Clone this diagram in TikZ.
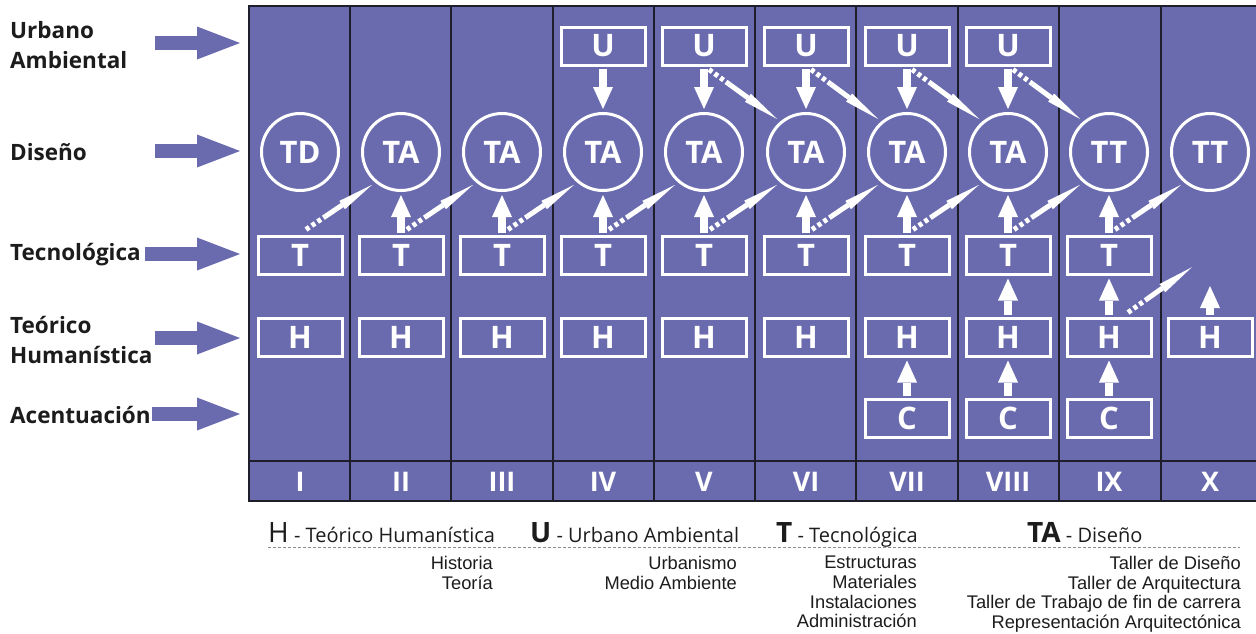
\documentclass[tikz,border=0pt]{standalone}
\usepackage{fontspec}
\setmainfont{Open Sans}
\newfontfamily\itemfont{Liberation Sans}
\usetikzlibrary{arrows.meta,calc}
\definecolor{wpanel}{HTML}{6A6BAE}
\definecolor{wline}{HTML}{1E1E2A}
\definecolor{wtext}{HTML}{1C1C1C}
\definecolor{wgray}{HTML}{8A8A8A}

% dashed start, solid end with a long tapered tip
\newcommand{\zigarr}[2]{%
  \draw[zdash] (#1) -- ($(#1)!0.28!(#2)$);
  \draw[ztip] ($(#1)!0.28!(#2)$) -- (#2);}

\begin{document}
\begin{tikzpicture}[
  x=1pt,y=-1pt,
  box/.style={draw=white,line width=3pt,minimum width=84pt,minimum height=38pt,inner sep=0pt,text=white,font=\fontsize{31}{31}\selectfont\bfseries},
  disc/.style={circle,draw=white,line width=3pt,minimum size=77pt,inner sep=0pt,text=white,font=\fontsize{31}{31}\selectfont\bfseries},
  blk/.style={white,line width=8pt,shorten <=2pt,shorten >=3pt,-{Triangle[length=22pt,width=20pt,line width=0pt]}},
  zdash/.style={white,line width=5pt,dash pattern=on 4pt off 3pt},
  ztip/.style={white,line width=5pt,shorten >=4pt,-{Triangle[length=36pt,width=10pt,line width=0pt]}},
  big/.style={wpanel,line width=14pt,-{Triangle[length=43pt,width=33pt,line width=0pt]}},
  lab/.style={anchor=west,align=left,inner sep=0pt,text=wtext,font=\fontsize{22.5}{30}\selectfont\bfseries},
  num/.style={text=white,font=\fontsize{27}{27}\selectfont\bfseries},
  sep/.style={wline,line width=2.5pt},
  hdr/.style={anchor=base west,inner sep=0pt,text=wtext,font=\fontsize{20}{20}\selectfont},
  item/.style={anchor=north east,align=right,inner sep=0pt,text=wtext,font=\itemfont\fontsize{18.3}{19.7}\selectfont}]
\useasboundingbox (0,0) rectangle (1256,633);

% ---------- panel with ten semesters ----------
\fill[wpanel] (249,6) rectangle (1258,501);
\draw[sep] (1258,6) -- (249,6) -- (249,501) -- (1258,501);
\draw[sep] (249,461) -- (1258,461);
\draw[sep] (350,6) -- (350,501) (451,6) -- (451,501) (553,6) -- (553,501)
  (654,6) -- (654,501) (755,6) -- (755,501) (856,6) -- (856,501)
  (958,6) -- (958,501) (1059,6) -- (1059,501) (1161,6) -- (1161,501);
\node[num] (n1) at (300,482) {I};   \node[num] (n2) at (401,482) {II};
\node[num] (n3) at (502,482) {III}; \node[num] (n4) at (603,482) {IV};
\node[num] (n5) at (704,482) {V};   \node[num] (n6) at (806,482) {VI};
\node[num] (n7) at (907,482) {VII}; \node[num] (n8) at (1008,482) {VIII};
\node[num] (n9) at (1109,482) {IX}; \node[num] (n10) at (1210,482) {X};

% ---------- row labels on the left ----------
\node[lab] (lu) at (10,45) {Urbano\\Ambiental};
\node[lab] (ld) at (10,152) {Diseño};
\node[lab] (lt) at (10,255) {Tecnológica};
\node[lab] (lh) at (10,340) {Teórico\\Humanística};
\node[lab] (lc) at (10,415) {Acentuación};
\coordinate (aU) at (240,43);  \coordinate (aD) at (240,151);
\coordinate (aT) at (240,254); \coordinate (aH) at (240,338);
\coordinate (aC) at (240,414);
\draw[big] ([xshift=-85pt]aU) -- (aU);
\draw[big] ([xshift=-85pt]aD) -- (aD);
\draw[big] ([xshift=-95pt]aT) -- (aT);
\draw[big] ([xshift=-85pt]aH) -- (aH);
\draw[big] ([xshift=-88pt]aC) -- (aC);

% ---------- U row ----------
\node[box] (u4) at (603,46) {U}; \node[box] (u5) at (704,46) {U};
\node[box] (u6) at (806,46) {U}; \node[box] (u7) at (907,46) {U};
\node[box] (u8) at (1008,46) {U};

% ---------- design row ----------
\node[disc] (d1) at (300,152) {TD};  \node[disc] (d2) at (401,152) {TA};
\node[disc] (d3) at (502,152) {TA};  \node[disc] (d4) at (603,152) {TA};
\node[disc] (d5) at (704,152) {TA};  \node[disc] (d6) at (806,152) {TA};
\node[disc] (d7) at (907,152) {TA};  \node[disc] (d8) at (1008,152) {TA};
\node[disc] (d9) at (1109,152) {TT}; \node[disc] (d10) at (1210,152) {TT};

% ---------- T, H and C rows ----------
\node[box] (t1) at (300,255) {T};  \node[box] (t2) at (401,255) {T};
\node[box] (t3) at (502,255) {T};  \node[box] (t4) at (603,255) {T};
\node[box] (t5) at (704,255) {T};  \node[box] (t6) at (806,255) {T};
\node[box] (t7) at (907,255) {T};  \node[box] (t8) at (1008,255) {T};
\node[box] (t9) at (1109,255) {T};
\node[box] (h1) at (300,337) {H};  \node[box] (h2) at (401,337) {H};
\node[box] (h3) at (502,337) {H};  \node[box] (h4) at (603,337) {H};
\node[box] (h5) at (704,337) {H};  \node[box] (h6) at (806,337) {H};
\node[box] (h7) at (907,337) {H};  \node[box] (h8) at (1008,337) {H};
\node[box] (h9) at (1109,337) {H}; \node[box] (h10) at (1210,337) {H};
\node[box] (c7) at (907,418) {C};  \node[box] (c8) at (1008,418) {C};
\node[box] (c9) at (1109,418) {C};

% ---------- straight links ----------
\draw[blk] (u4.south) -- (d4.north); \draw[blk] (u5.south) -- (d5.north);
\draw[blk] (u6.south) -- (d6.north); \draw[blk] (u7.south) -- (d7.north);
\draw[blk] (u8.south) -- (d8.north);
\draw[blk] (t2.north) -- (d2.south); \draw[blk] (t3.north) -- (d3.south);
\draw[blk] (t4.north) -- (d4.south); \draw[blk] (t5.north) -- (d5.south);
\draw[blk] (t6.north) -- (d6.south); \draw[blk] (t7.north) -- (d7.south);
\draw[blk] (t8.north) -- (d8.south); \draw[blk] (t9.north) -- (d9.south);
\draw[blk] (h8.north) -- (t8.south); \draw[blk] (h9.north) -- (t9.south);
\draw[blk] (c7.north) -- (h7.south); \draw[blk] (c8.north) -- (h8.south);
\draw[blk] (c9.north) -- (h9.south);
\coordinate (x1) at (1210,283);
\draw[blk] (h10.north) -- (x1);

% ---------- links into the next semester ----------
\zigarr{[xshift=6pt,yshift=5pt]t1.north}{d2.230}
\zigarr{[xshift=6pt,yshift=5pt]t2.north}{d3.230}
\zigarr{[xshift=6pt,yshift=5pt]t3.north}{d4.230}
\zigarr{[xshift=6pt,yshift=5pt]t4.north}{d5.230}
\zigarr{[xshift=6pt,yshift=5pt]t5.north}{d6.230}
\zigarr{[xshift=6pt,yshift=5pt]t6.north}{d7.230}
\zigarr{[xshift=6pt,yshift=5pt]t7.north}{d8.230}
\zigarr{[xshift=6pt,yshift=5pt]t8.north}{d9.230}
\zigarr{[xshift=6pt,yshift=5pt]t9.north}{d10.230}
\zigarr{[xshift=5pt,yshift=-3pt]u5.south}{d6.130}
\zigarr{[xshift=5pt,yshift=-3pt]u6.south}{d7.130}
\zigarr{[xshift=5pt,yshift=-3pt]u7.south}{d8.130}
\zigarr{[xshift=5pt,yshift=-3pt]u8.south}{d9.130}
\coordinate (x2) at (1195,265);
\zigarr{[xshift=19pt,yshift=4pt]h9.north}{x2}

% ---------- legend ----------
\node[hdr] (gh) at (268,542) {{\fontsize{28}{28}\selectfont H} - Teórico Humanística};
\node[hdr] (gu) at (530,542) {{\fontsize{28}{28}\selectfont\bfseries U} - Urbano Ambiental};
\node[hdr] (gt) at (776,542) {{\fontsize{28}{28}\selectfont\bfseries T} - Tecnológica};
\node[hdr] (gta) at (1027,542) {{\fontsize{28}{28}\selectfont\bfseries TA} - Diseño};
\draw[wgray,line width=1pt,dash pattern=on 3pt off 2pt] (268,547) -- (1240,547);
\node[item] (ih) at (493,556) {Historia\\Teoría};
\node[item] (iu) at (737,556) {Urbanismo\\Medio Ambiente};
\node[item] (it) at (917,556) {Estructuras\\Materiales\\Instalaciones\\Administración};
\node[item] (ita) at (1241,556) {Taller de Diseño\\Taller de Arquitectura\\Taller de Trabajo de fin de carrera\\Representación Arquitectónica};
\end{tikzpicture}
\end{document}
